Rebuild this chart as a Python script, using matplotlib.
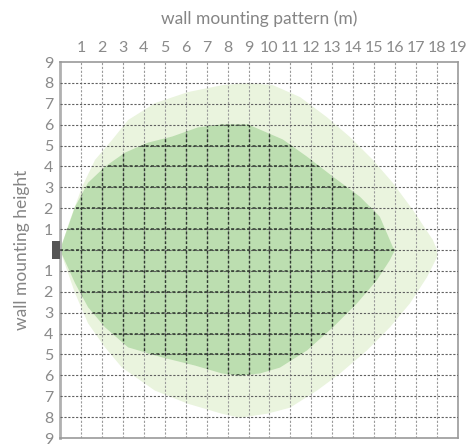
import numpy as np
import matplotlib
matplotlib.use("Agg")
import matplotlib.pyplot as plt
from matplotlib.patches import Polygon, Rectangle

plt.rcParams['font.family'] = ['Lato', 'DejaVu Sans']

# outer (light) coverage outline, metres
outer_x = [0, 0.48, 1.05, 1.67, 2.48, 3.25, 4.53, 6.11, 7.73, 8.97, 10.17, 11.46,
           12.74, 13.84, 14.94, 15.89, 16.85, 17.80, 18.0, 18.0, 17.52, 16.71,
           15.75, 14.65, 13.37, 12.27, 10.98, 9.88, 8.59, 7.73, 6.11, 4.53,
           2.96, 2.15, 1.34, 0.72]
outer_y = [0, 1.44, 3.01, 4.31, 5.26, 6.22, 7.03, 7.56, 7.89, 7.99, 7.89, 7.32,
           6.36, 5.41, 4.31, 3.21, 1.91, 0.48, 0, -0.34, -1.30, -2.55,
           -3.70, -4.81, -5.91, -6.73, -7.55, -7.84, -8.03, -7.84, -7.36, -6.73,
           -5.63, -4.66, -3.51, -2.07]

# inner (dark) coverage outline, metres
inner_x = [0, 0.72, 1.34, 2.15, 3.10, 4.20, 5.35, 6.59, 7.73, 8.97, 9.21, 10.64,
           11.79, 13.03, 14.32, 15.27, 15.89, 15.99, 15.75, 15.13, 14.18, 13.03,
           11.79, 10.50, 9.55, 8.59, 7.73, 6.44, 4.87, 3.25, 2.15, 1.34, 0.72]
inner_y = [0, 2.07, 3.22, 3.99, 4.66, 5.14, 5.43, 5.87, 6.01, 6.01, 5.91, 5.29,
           4.47, 3.51, 2.55, 1.59, 0.14, 0, -0.48, -1.44, -2.55, -3.70,
           -4.81, -5.63, -5.91, -6.01, -5.91, -5.53, -5.14, -4.66, -3.70, -2.74, -1.59]

x_ticks = list(range(1, 20))
y_ticks = list(range(-9, 10))
y_labels = [str(abs(v)) if v != 0 else "" for v in y_ticks]

fig = plt.figure(figsize=(4.77, 4.45), dpi=100)
ax = fig.add_axes([60 / 477, 1 - 438 / 445, 398 / 477, 376 / 445])
ax.set_xlim(0, 19)
ax.set_ylim(-9, 9)

outer = Polygon(np.column_stack([outer_x, outer_y]), closed=True,
                facecolor="#eaf4de", edgecolor="none", zorder=1)
inner = Polygon(np.column_stack([inner_x, inner_y]), closed=True,
                facecolor="#bcdeb0", edgecolor="none", zorder=2)
ax.add_patch(outer)
ax.add_patch(inner)

# grid lines
for xv in x_ticks[:-1]:
    ax.axvline(xv, color="#9a9a9a", lw=0.8, ls=(0, (2, 1.5)), zorder=3)
for yv in y_ticks[1:-1]:
    ax.axhline(yv, color="#606060", lw=0.8, ls=(0, (2, 1.5)), zorder=3)
# darker grid inside the inner zone
for xv in x_ticks[:-1]:
    ln = ax.axvline(xv, color="#2f3a2f", lw=1.0, ls=(0, (2, 1.5)), zorder=4)
    ln.set_clip_path(inner)
for yv in y_ticks[1:-1]:
    ln = ax.axhline(yv, color="#2f3a2f", lw=1.1, ls=(0, (2, 1.5)), zorder=4)
    ln.set_clip_path(inner)

# wall
ax.add_patch(Rectangle((-0.38, -0.42), 0.38, 0.84, facecolor="#555555",
                       edgecolor="none", clip_on=False, zorder=6))

ax.xaxis.tick_top()
ax.xaxis.set_label_position("top")
ax.set_xticks(x_ticks)
ax.set_xticklabels([str(v) for v in x_ticks])
ax.set_yticks(y_ticks)
ax.set_yticklabels(y_labels)
ax.tick_params(length=0, labelsize=11.5, labelcolor="#8a8a8a", pad=5)

ax.set_xlabel("wall mounting pattern (m)", fontsize=12.5, color="#858585",
              labelpad=12)
ax.set_ylabel("wall mounting height", fontsize=12.5, color="#858585",
              labelpad=10)

for side in ["top", "bottom", "right"]:
    ax.spines[side].set_color("#999999")
    ax.spines[side].set_linewidth(1.2)
ax.spines["left"].set_color("#b0b0b0")
ax.spines["left"].set_linewidth(2)

fig.savefig("out.png", dpi=100)
